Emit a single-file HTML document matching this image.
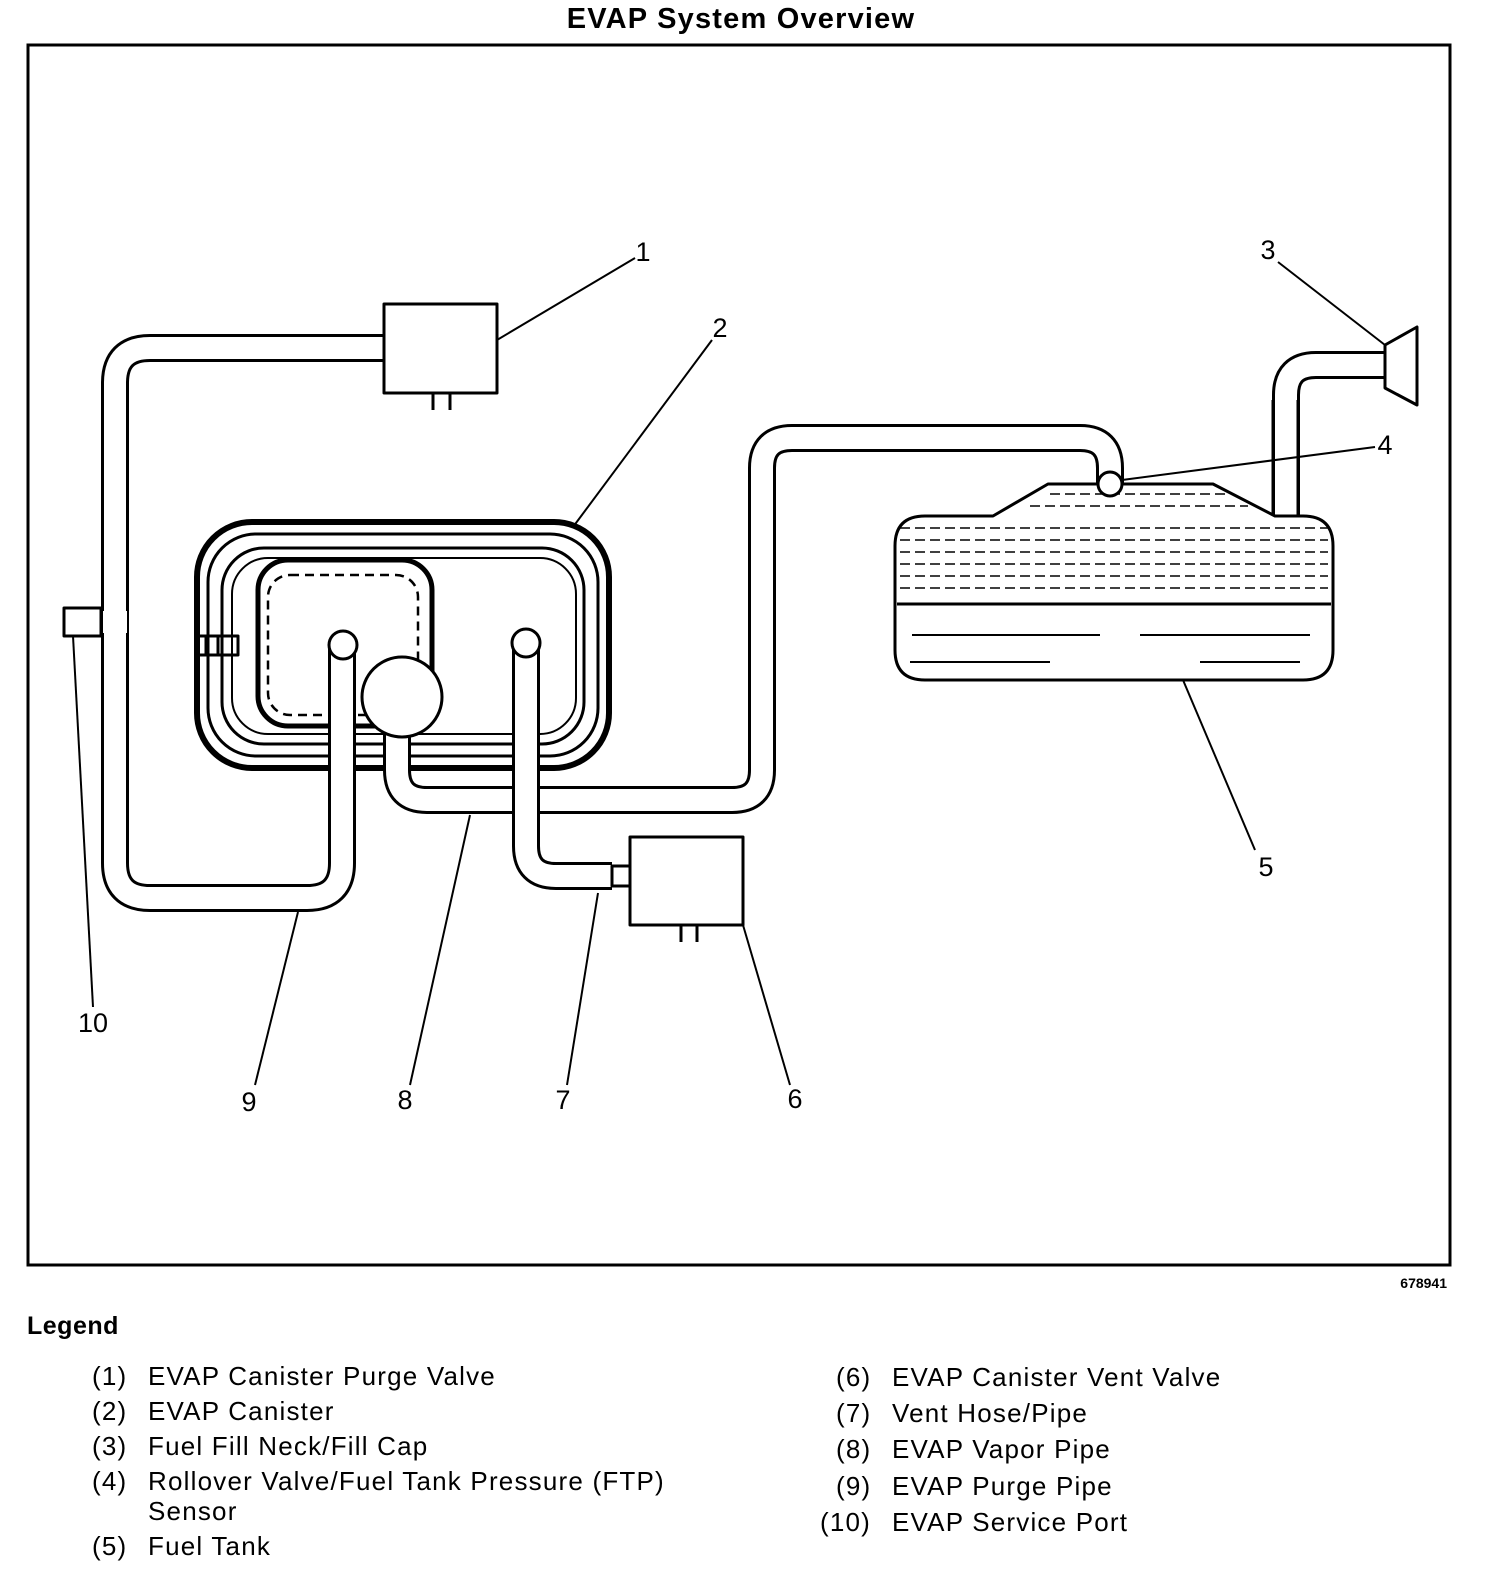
<!DOCTYPE html>
<html><head><style>
body{margin:0;background:#fff}
svg{display:block}
text{font-family:"Liberation Sans",sans-serif;fill:#000}
</style></head><body>
<svg width="1504" height="1580" viewBox="0 0 1504 1580" xmlns="http://www.w3.org/2000/svg">
<text x="741" y="28" font-size="29" font-weight="bold" text-anchor="middle" letter-spacing="1.2">EVAP System Overview</text>
<rect x="28" y="45" width="1422" height="1220" fill="none" stroke="#000" stroke-width="3"/>
<text x="1447" y="1288" font-size="14" font-weight="bold" text-anchor="end">678941</text>

<g fill="none" stroke-linejoin="round">
<!-- canister -->
<rect x="197" y="522" width="412" height="246" rx="55" stroke="#000" stroke-width="6"/>
<rect x="208" y="534" width="390" height="222" rx="48" stroke="#000" stroke-width="3"/>
<rect x="222" y="548" width="362" height="196" rx="42" stroke="#000" stroke-width="3"/>
<rect x="232" y="558" width="344" height="176" rx="36" stroke="#000" stroke-width="2"/>
<rect x="258" y="560" width="174" height="166" rx="30" stroke="#000" stroke-width="5"/>
<rect x="268" y="575" width="150" height="140" rx="22" stroke="#000" stroke-width="2.5" stroke-dasharray="9,6"/>
<path d="M196 636 H238 V655 H196 M206 636 V655 M218 636 V655" stroke="#000" stroke-width="3"/>

<!-- pipes -->
<g stroke="#000" stroke-width="28">
<path d="M384 348 H150 Q115 348 115 383 V863 Q115 898 150 898 H307 Q342 898 342 863 V645"/>
<path d="M397 720 V770 Q397 800 427 800 H732 Q762 800 762 770 V468 Q762 438 792 438 H1080 Q1110 438 1110 468 V484"/>
<path d="M1286 516 V395 Q1286 365 1316 365 H1386"/>
</g>
<g stroke="#fff" stroke-width="22">
<path d="M384 348 H150 Q115 348 115 383 V863 Q115 898 150 898 H307 Q342 898 342 863 V645"/>
<path d="M397 720 V770 Q397 800 427 800 H732 Q762 800 762 770 V468 Q762 438 792 438 H1080 Q1110 438 1110 468 V484"/>
<path d="M1286 520 V395 Q1286 365 1316 365 H1386"/>
</g>
<path d="M526 643 V846 Q526 876 556 876 H612" stroke="#000" stroke-width="28"/>
<path d="M526 643 V846 Q526 876 556 876 H612" stroke="#fff" stroke-width="22"/>
<circle cx="343" cy="645" r="14" fill="#fff" stroke="#000" stroke-width="3"/>
<circle cx="526" cy="643" r="14" fill="#fff" stroke="#000" stroke-width="3"/>
<circle cx="402" cy="697" r="40" fill="#fff" stroke="#000" stroke-width="3"/>

<!-- service port -->
<rect x="64" y="608" width="37" height="28" fill="#fff" stroke="#000" stroke-width="3"/>
<rect x="103" y="611" width="24" height="22" fill="#fff" stroke="none"/>

<!-- purge valve -->
<rect x="384" y="304" width="113" height="89" fill="#fff" stroke="#000" stroke-width="3"/>
<path d="M433 393 V410 M450 393 V410" stroke="#000" stroke-width="3"/>
<!-- vent valve -->
<rect x="612" y="866" width="18" height="20" fill="#fff" stroke="#000" stroke-width="3"/>
<rect x="630" y="837" width="113" height="88" fill="#fff" stroke="#000" stroke-width="3"/>
<path d="M681 925 V942 M697 925 V942" stroke="#000" stroke-width="3"/>

<!-- fuel tank -->
<path d="M925 516 H993 L1048 484 H1213 L1275 516 H1303 Q1333 516 1333 546 V650 Q1333 680 1303 680 H925 Q895 680 895 650 V546 Q895 516 925 516 Z" fill="#fff" stroke="#000" stroke-width="3"/>
<path d="M1273 516 V400 M1298 516 V400" stroke="#000" stroke-width="3"/>
<g stroke="#000" stroke-width="1.5" stroke-dasharray="10,5">
<path d="M1050 494 H1225 M1030 506 H1248 M900 528 H1328 M900 540 H1328 M900 552 H1328 M900 564 H1328 M900 576 H1328 M900 588 H1328"/>
</g>
<path d="M897 604 H1331" stroke="#000" stroke-width="3"/>
<path d="M912 635 H1100 M1140 635 H1310 M910 662 H1050 M1200 662 H1300" stroke="#000" stroke-width="2"/>
<circle cx="1110" cy="484" r="12" fill="#fff" stroke="#000" stroke-width="3"/>
<!-- cap -->
<path d="M1385 345 L1417 327 V405 L1385 388 Z" fill="#fff" stroke="#000" stroke-width="3"/>

<!-- leaders -->
<g stroke="#000" stroke-width="2">
<path d="M497 340 L635 258"/>
<path d="M573 527 L712 340"/>
<path d="M1278 262 L1385 345"/>
<path d="M1122 480 L1375 447"/>
<path d="M1183 680 L1255 850"/>
<path d="M743 925 L790 1085"/>
<path d="M598 893 L567 1085"/>
<path d="M470 815 L410 1085"/>
<path d="M298 912 L255 1085"/>
<path d="M73 636 L93 1007"/>
</g>
</g>
<g font-size="27" text-anchor="middle">
<text x="643" y="261">1</text>
<text x="720" y="337">2</text>
<text x="1268" y="259">3</text>
<text x="1385" y="454">4</text>
<text x="1266" y="876">5</text>
<text x="795" y="1108">6</text>
<text x="563" y="1109">7</text>
<text x="405" y="1109">8</text>
<text x="249" y="1111">9</text>
<text x="93" y="1032">10</text>
</g>

<text x="27" y="1334" font-size="25" font-weight="bold" letter-spacing="0.5">Legend</text>
<g font-size="26" letter-spacing="1.2">
<text x="92" y="1385">(1)</text><text x="148" y="1385">EVAP Canister Purge Valve</text>
<text x="92" y="1420">(2)</text><text x="148" y="1420">EVAP Canister</text>
<text x="92" y="1455">(3)</text><text x="148" y="1455">Fuel Fill Neck/Fill Cap</text>
<text x="92" y="1490">(4)</text><text x="148" y="1490">Rollover Valve/Fuel Tank Pressure (FTP)</text>
<text x="148" y="1520">Sensor</text>
<text x="92" y="1555">(5)</text><text x="148" y="1555">Fuel Tank</text>
<text x="836" y="1386">(6)</text><text x="892" y="1386">EVAP Canister Vent Valve</text>
<text x="836" y="1422">(7)</text><text x="892" y="1422">Vent Hose/Pipe</text>
<text x="836" y="1458">(8)</text><text x="892" y="1458">EVAP Vapor Pipe</text>
<text x="836" y="1495">(9)</text><text x="892" y="1495">EVAP Purge Pipe</text>
<text x="820" y="1531">(10)</text><text x="892" y="1531">EVAP Service Port</text>
</g>
</svg>
</body></html>
